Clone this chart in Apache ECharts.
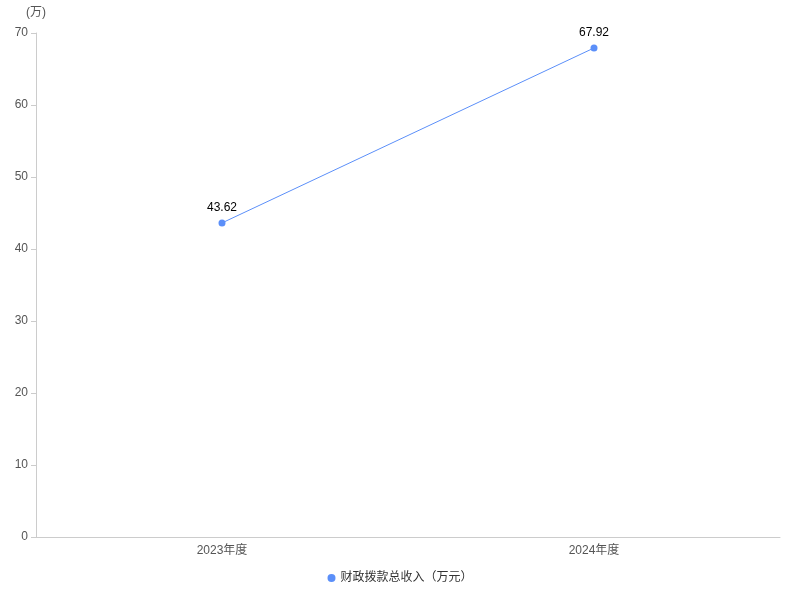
<!DOCTYPE html>
<html><head><meta charset="utf-8">
<script src="https://cdn.jsdelivr.net/npm/echarts@6/dist/echarts.min.js"></script>
<style>html,body{margin:0;padding:0;background:#fff}#c{width:800px;height:600px}</style>
</head><body><div id="c"></div>
<script>
var categories = ['2023年度', '2024年度'];
var values = [43.62, 67.92];
var seriesName = '财政拨款总收入（万元）';
var yTicks = [0, 10, 20, 30, 40, 50, 60, 70];

var chart = echarts.init(document.getElementById('c'));
chart.setOption({
  animation: false,
  textStyle: { fontFamily: 'Liberation Sans, "Noto Sans CJK SC", sans-serif' },
  grid: { left: 36, right: 20, top: 33, bottom: 63, containLabel: false },
  legend: {
    bottom: 11, left: 'center', icon: 'circle', itemWidth: 8, itemHeight: 8,
    textStyle: { color: '#333', fontSize: 12 },
    data: [seriesName]
  },
  xAxis: {
    type: 'category', data: categories, boundaryGap: true,
    axisLine: { lineStyle: { color: '#ccc' } },
    axisTick: { show: false },
    axisLabel: { color: '#555', fontSize: 12, margin: 8 }
  },
  yAxis: {
    type: 'value', min: yTicks[0], max: yTicks[yTicks.length - 1], interval: 10,
    name: '(万)', nameGap: 12, nameTextStyle: { color: '#555', fontSize: 12, align: 'center', padding: [0, 0, 2, 0] },
    axisLine: { show: true, lineStyle: { color: '#ccc' } },
    axisTick: { show: true, lineStyle: { color: '#ccc' } },
    splitLine: { show: false },
    axisLabel: { color: '#555', fontSize: 12 }
  },
  series: [{
    name: seriesName, type: 'line', data: values,
    symbol: 'circle', symbolSize: 7,
    itemStyle: { color: '#5B8FF9' },
    lineStyle: { width: 1, color: '#5B8FF9' },
    label: { show: true, position: 'top', color: '#000', fontSize: 12, distance: 6 }
  }]
});
</script></body></html>
